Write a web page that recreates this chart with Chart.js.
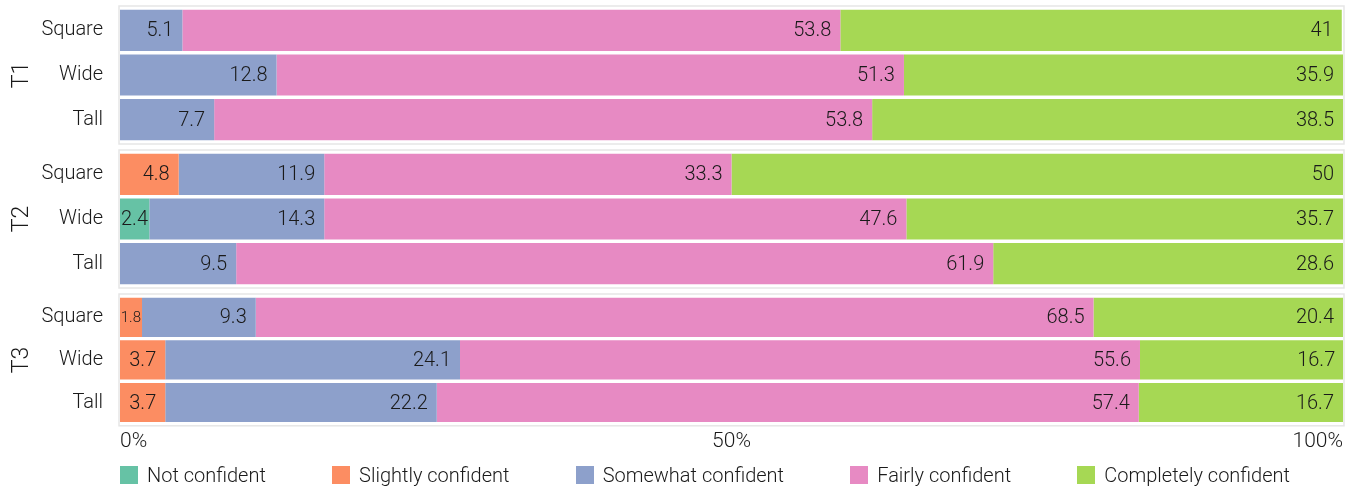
<!DOCTYPE html>
<html>
<head>
<meta charset="utf-8">
<script src="https://cdn.jsdelivr.net/npm/chart.js@4.4.1/dist/chart.umd.min.js"></script>
<style>
  body { margin: 0; background: #fff; }
  #wrap { position: relative; width: 1348px; height: 491px; overflow: hidden; }
  .facet { position: absolute; left: 0; }
  #legend { position: absolute; left: 120px; top: 465px; width: 1170px; height: 20px;
            display: flex; justify-content: space-between; align-items: center;
            font: 300 20px Roboto, sans-serif; color: #1a1a1a; }
  #legend .item { display: flex; align-items: center; white-space: nowrap; }
  #legend .box { width: 18px; height: 18px; margin-right: 9px; }
</style>
</head>
<body>
<div id="wrap">
  <canvas id="c1" class="facet" style="top:0px" width="1348" height="150"></canvas>
  <canvas id="c2" class="facet" style="top:144px" width="1348" height="150"></canvas>
  <canvas id="c3" class="facet" style="top:288px" width="1348" height="171"></canvas>
  <div id="legend"></div>
</div>
<script>
// facets and rows
var groups = ['T1', 'T2', 'T3'];
var shapes = ['Square', 'Wide', 'Tall'];
var seriesNames = ['Not confident', 'Slightly confident', 'Somewhat confident', 'Fairly confident', 'Completely confident'];
var seriesColors = ['#66c2a5', '#fc8d62', '#8da0cb', '#e78ac3', '#a6d854'];
// percentages, rows: T1 Square/Wide/Tall, T2 Square/Wide/Tall, T3 Square/Wide/Tall
var notConfident        = [0, 0, 0,        0, 2.4, 0,       0, 0, 0];
var slightlyConfident   = [0, 0, 0,        4.8, 0, 0,       1.8, 3.7, 3.7];
var somewhatConfident   = [5.1, 12.8, 7.7, 11.9, 14.3, 9.5, 9.3, 24.1, 22.2];
var fairlyConfident     = [53.8, 51.3, 53.8, 33.3, 47.6, 61.9, 68.5, 55.6, 57.4];
var completelyConfident = [41, 35.9, 38.5, 50, 35.7, 28.6, 20.4, 16.7, 16.7];
var xTicks = [0, 50, 100];

var allSeries = [notConfident, slightlyConfident, somewhatConfident, fairlyConfident, completelyConfident];

Chart.defaults.font.family = 'Roboto';
Chart.defaults.font.weight = 300;
Chart.defaults.color = '#1a1a1a';
Chart.defaults.animation = false;

// value labels at the right end of each segment
var barLabels = {
    id: 'barLabels',
    afterDatasetsDraw: function(chart) {
        var ctx = chart.ctx;
        ctx.save();
        ctx.textAlign = 'right';
        ctx.textBaseline = 'middle';
        ctx.fillStyle = '#1a1a1a';
        chart.data.datasets.forEach(function(ds, di) {
            var meta = chart.getDatasetMeta(di);
            meta.data.forEach(function(bar, i) {
                var v = ds.data[i];
                if (!v) return;
                var w = Math.abs(bar.x - bar.base);
                var txt = String(v);
                var size = 20;
                ctx.font = '300 ' + size + 'px Roboto';
                var tw = ctx.measureText(txt).width;
                if (tw + 1 > w) {
                    size = Math.floor(size * (w - 1) / tw);
                    ctx.font = '300 ' + size + 'px Roboto';
                    tw = ctx.measureText(txt).width;
                }
                var pad = Math.min(9, Math.max(1, w - tw - 1));
                ctx.fillText(txt, bar.x - pad, bar.y + 1);
            });
        });
        ctx.restore();
    }
};

// light frame round each facet
var panelFrame = {
    id: 'panelFrame',
    beforeDatasetsDraw: function(chart) {
        var a = chart.chartArea, ctx = chart.ctx;
        ctx.save();
        ctx.strokeStyle = '#e6e6e6';
        ctx.lineWidth = 1.5;
        ctx.strokeRect(a.left - 1, a.top - 2, a.right - a.left + 2, a.bottom - a.top + 4);
        ctx.restore();
    }
};

function makeFacet(canvasId, g, showX) {
    var datasets = seriesNames.map(function(name, s) {
        return {
            label: name,
            data: allSeries[s].slice(g * 3, g * 3 + 3),
            backgroundColor: seriesColors[s],
            borderWidth: 0,
            barPercentage: 0.92,
            categoryPercentage: 1
        };
    });
    return new Chart(document.getElementById(canvasId).getContext('2d'), {
        type: 'bar',
        data: { labels: shapes, datasets: datasets },
        plugins: [panelFrame, barLabels],
        options: {
            responsive: false,
            indexAxis: 'y',
            layout: { padding: { top: 8, bottom: showX ? 0 : 8, left: 0, right: 5 } },
            plugins: { legend: { display: false }, tooltip: { enabled: false } },
            scales: {
                x: {
                    stacked: true,
                    display: showX,
                    min: 0,
                    max: 100,
                    afterBuildTicks: function(scale) {
                        scale.ticks = xTicks.map(function(v) { return { value: v }; });
                    },
                    grid: { display: false, drawTicks: false },
                    border: { display: false },
                    ticks: {
                        align: 'inner',
                        padding: 5,
                        font: { size: 21 },
                        callback: function(v) { return v + '%'; }
                    }
                },
                y: {
                    stacked: true,
                    grid: { display: false, drawTicks: false },
                    border: { display: false },
                    ticks: { padding: 17, font: { size: 20 } },
                    title: { display: true, text: groups[g], font: { size: 23 }, padding: { top: 8, bottom: 0 } },
                    afterFit: function(scale) {
                        scale.width = 120;
                        scale.paddingTop = 0;
                        scale.paddingBottom = 0;
                    }
                }
            }
        }
    });
}

var facet1 = makeFacet('c1', 0, false);
var facet2 = makeFacet('c2', 1, false);
var facet3 = makeFacet('c3', 2, true);

// legend built from the chart's own legend items
var legendEl = document.getElementById('legend');
Chart.defaults.plugins.legend.labels.generateLabels(facet3).forEach(function(item) {
    var el = document.createElement('div');
    el.className = 'item';
    var box = document.createElement('span');
    box.className = 'box';
    box.style.background = item.fillStyle;
    var txt = document.createElement('span');
    txt.textContent = item.text;
    el.appendChild(box);
    el.appendChild(txt);
    legendEl.appendChild(el);
});
</script>
</body>
</html>
